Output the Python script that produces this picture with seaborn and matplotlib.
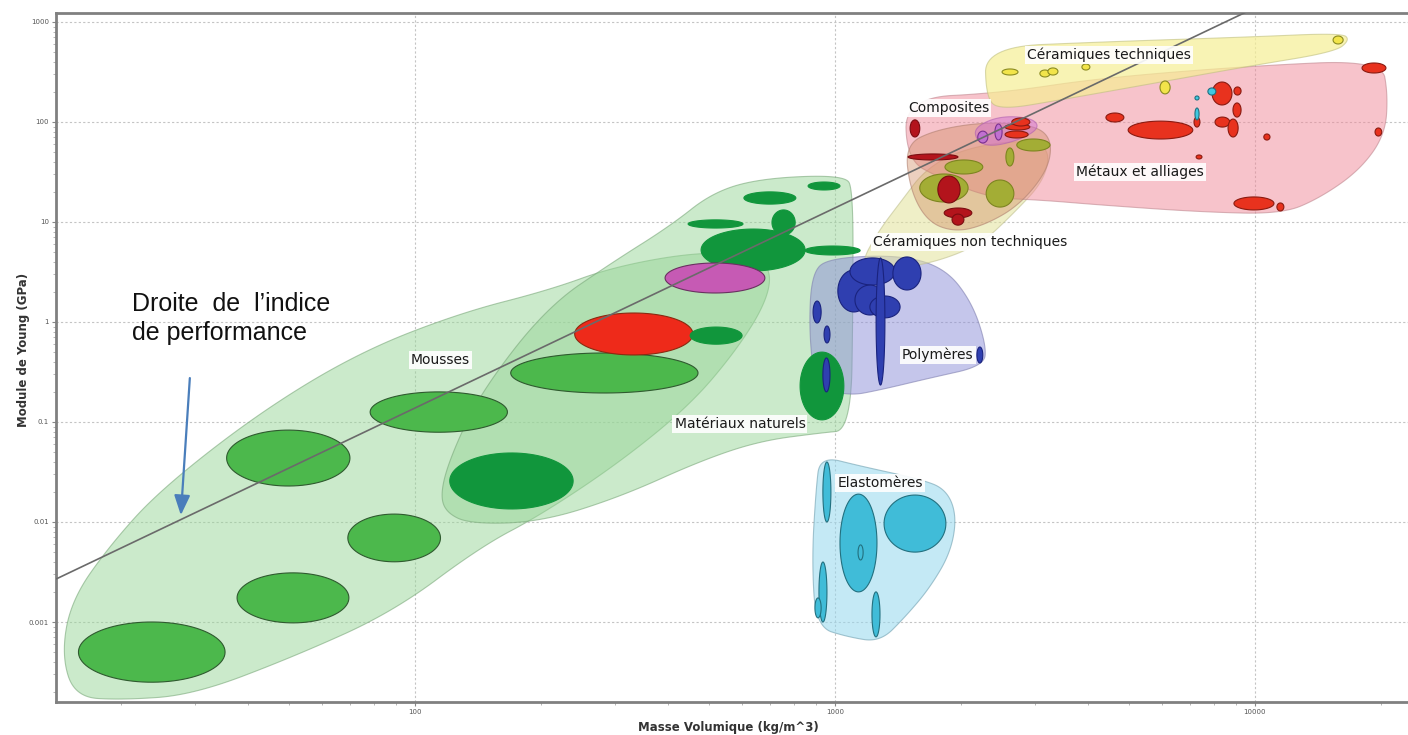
import numpy as np
import matplotlib
matplotlib.use("Agg")
import matplotlib.pyplot as plt
import seaborn as sns

# axis ranges (kg/m^3, GPa)
rho_lim = (13.97, 23660)
E_lim = (1.585e-4, 1230)
x_ticks = [100, 1000, 10000]
x_tick_labels = ["100", "1000", "10000"]
y_ticks = [0.001, 0.01, 0.1, 1, 10, 100, 1000]
y_tick_labels = ["0.001", "0.01", "0.1", "1", "10", "100", "1000"]

# performance index line, end points
perf_rho = [14, 9500]
perf_E = [0.0027, 1250]

# family envelopes (vertices, smoothed later)
mousses_rho = [15.5, 14.4, 15.2, 18.8, 24.7, 42.8, 73.9, 128, 209, 296, 469, 645, 708, 681,
               578, 452, 308, 199, 143, 88.7, 51.3, 29.6, 19.9]
mousses_E = [1.78e-4, 4.68e-4, 1.66e-3, 5.89e-3, 0.0209, 0.126, 0.501, 1.23, 2.09, 3.55, 5.01,
             4.68, 3.16, 1.48, 0.501, 0.148, 0.0398, 0.0117, 5.62e-3, 1.26e-3, 4.47e-4,
             1.86e-4, 1.66e-4]
naturels_rho = [115, 122, 143, 206, 296, 405, 513, 674, 1057, 1104, 1104, 1092, 921, 662, 477,
                308, 199, 135, 118]
naturels_E = [0.02, 0.0468, 0.195, 1.41, 3.98, 9.12, 20, 27.5, 29.5, 20.9, 1.66, 0.083, 0.0776,
              0.0646, 0.0407, 0.0178, 0.01, 0.00955, 0.0126]
polymeres_rho = [881, 973, 1429, 1828, 2118, 2291, 2265, 1682, 1280, 1074, 896, 867]
polymeres_E = [3.16, 4.37, 4.68, 3.47, 1.58, 0.589, 0.363, 0.275, 0.209, 0.182, 0.234, 0.832]
elastomeres_rho = [921, 1148, 1592, 1837, 1950, 1888, 1682, 1469, 1280, 1074, 901, 881, 901]
elastomeres_E = [0.0457, 0.0363, 0.0269, 0.0214, 0.0117, 0.005, 0.00219, 0.00112, 6.3e-4,
                 7.08e-4, 8.9e-4, 4.17e-3, 0.0209]
cer_nt_rho = [1148, 1265, 1445, 1637, 1986, 2685, 3251, 3162, 2637, 2213, 1682, 1280]
cer_nt_E = [3.72, 7.94, 16.6, 33.1, 52.5, 66.1, 57.5, 26.3, 11.7, 5.89, 3.8, 3.31]
composites_rho = [1469, 1730, 2276, 2992, 3289, 3214, 2754, 2276, 1931, 1663, 1510]
composites_E = [58.9, 83.2, 100, 93.3, 66.1, 33.1, 14.8, 9.33, 7.94, 10, 20.9]
comp_fib_rho = [2153, 2472, 2944, 3076, 2754, 2339, 2166]
comp_fib_E = [89.1, 115, 110, 87.1, 66.1, 56.2, 66.1]
metaux_rho = [1469, 2472, 4276, 9727, 20040, 20740, 20400, 17780, 14290, 11590, 7396, 4276,
              3076, 2339, 1778, 1484]
metaux_E = [174, 195, 275, 363, 417, 186, 74.1, 33.1, 17.4, 12, 12.6, 14.8, 16.6, 17.4, 27.5, 41.7]
cer_t_rho = [2276, 4276, 9727, 16110, 16830, 15500, 9727, 5623, 3436, 2472, 2291]
cer_t_E = [562, 631, 708, 776, 661, 501, 363, 240, 166, 132, 174]

# material bubbles: (rho_min, rho_max, E_min, E_max)
b_mousses = [(15.8, 35.3, 2.5e-4, 1.0e-3), (37.7, 69.6, 9.8e-4, 3.1e-3), (69.2, 115, 0.004, 0.012),
             (35.6, 70, 0.0229, 0.083), (78.2, 166, 0.079, 0.2), (169, 472, 0.195, 0.49)]
b_naturels = [(121, 238, 0.0135, 0.049), (447, 604, 8.7, 10.5), (607, 807, 15.1, 20),
              (863, 1028, 20.9, 25.1), (849, 1148, 4.68, 5.75), (480, 849, 3.24, 8.5),
              (708, 804, 7.4, 13.2), (826, 1050, 0.105, 0.50)]
b_mousse_rigide = [(240, 459, 0.468, 1.23)]
b_liege = [(452, 601, 0.60, 0.89)]
b_bois_comp = [(394, 681, 1.95, 3.89)]
b_polymeres = [(1016, 1211, 1.26, 3.31), (1086, 1390, 2.34, 4.37), (1374, 1603, 2.09, 4.47),
               (1116, 1315, 1.175, 2.34), (1211, 1429, 1.10, 1.82), (1253, 1315, 0.234, 4.37),
               (887, 927, 0.977, 1.62), (942, 973, 0.617, 0.912), (2178, 2249, 0.389, 0.562),
               (936, 973, 0.2, 0.437)]
b_elastomeres = [(1028, 1259, 0.002, 0.019), (1309, 1837, 0.005, 0.0186), (936, 978, 0.01, 0.0398),
                 (1135, 1167, 0.00417, 0.0059), (916, 957, 0.001, 0.00398),
                 (896, 927, 0.0011, 0.00174), (1225, 1280, 0.00071, 0.002)]
b_cer_nt = [(1828, 2249, 30.2, 41.7), (1592, 2075, 15.85, 30.2), (2291, 2667, 14.1, 26.3),
            (2710, 3251, 51.3, 67.6), (2553, 2667, 36.3, 55)]
b_rouge_fonce = [(1758, 1986, 15.5, 28.8), (1820, 2118, 11, 13.8), (1900, 2028, 9.3, 12),
                 (1510, 1592, 70.8, 105), (1493, 1963, 41.7, 47.9)]
b_composites = [(2188, 2312, 61.7, 81), (2404, 2500, 66, 95.5)]
b_metaux = [(2541, 2911, 83.2, 95.5), (2541, 2884, 69.2, 81.3), (2637, 2911, 91.2, 109.6),
            (4990, 7113, 67.6, 102), (4418, 4875, 100, 123), (7907, 8817, 148, 251),
            (8913, 9268, 186, 224), (8866, 9268, 112, 155), (8035, 8710, 89, 112),
            (8630, 9120, 70.8, 107), (7161, 7396, 89, 112), (10500, 10860, 66, 75.9),
            (7244, 7480, 42.7, 46.8), (8913, 11100, 13.2, 17.8), (11280, 11720, 12.9, 15.5),
            (17990, 20510, 309, 389), (19320, 20040, 72.4, 87.1)]
b_cyan = [(7727, 8072, 186, 219), (7198, 7362, 166, 182), (7198, 7362, 105, 138)]
b_cer_t = [(2500, 2728, 295, 339), (3076, 3251, 282, 331), (3214, 3396, 295, 347),
           (5943, 6281, 191, 257), (15350, 16220, 603, 724), (3873, 4046, 331, 380)]

# family labels
label_text = ["Céramiques techniques", "Composites", "Métaux et alliages",
              "Céramiques non techniques", "Mousses", "Polymères", "Matériaux naturels",
              "Elastomères"]
label_rho = [4487, 1866, 5321, 2094, 115, 1758, 594, 1280]
label_E = [468, 138, 31.6, 6.31, 0.417, 0.468, 0.0955, 0.0245]


def chaikin(pts, n=4):
    pts = np.asarray(pts, dtype=float)
    for _ in range(n):
        q = np.roll(pts, -1, axis=0)
        new = np.empty((2 * len(pts), 2))
        new[0::2] = 0.75 * pts + 0.25 * q
        new[1::2] = 0.25 * pts + 0.75 * q
        pts = new
    return pts


def envelope(ax, rho, E, fc, alpha, ec):
    lp = np.column_stack([np.log10(rho), np.log10(E)])
    s = chaikin(lp)
    ax.fill(10 ** s[:, 0], 10 ** s[:, 1], fc=fc, ec="none", alpha=alpha, zorder=1)
    ax.fill(10 ** s[:, 0], 10 ** s[:, 1], fc="none", ec=ec, lw=0.8, alpha=0.6, zorder=1)


def bubbles(ax, items, fc, ec, z=3):
    t = np.linspace(0, 2 * np.pi, 90)
    for r0, r1, e0, e1 in items:
        cx, hx = (np.log10(r0) + np.log10(r1)) / 2, (np.log10(r1) - np.log10(r0)) / 2
        cy, hy = (np.log10(e0) + np.log10(e1)) / 2, (np.log10(e1) - np.log10(e0)) / 2
        ax.fill(10 ** (cx + hx * np.cos(t)), 10 ** (cy + hy * np.sin(t)),
                fc=fc, ec=ec, lw=0.8, zorder=z)


sns.set_theme(style="white")
plt.rcParams["font.family"] = ["DejaVu Sans"]

fig = plt.figure(figsize=(14.08, 7.35), dpi=100)
ax = fig.add_axes([56 / 1408, 1 - 702 / 735, 1356 / 1408, 689 / 735])
ax.set_xscale("log")
ax.set_yscale("log")

# envelopes
envelope(ax, mousses_rho, mousses_E, "#98d698", 0.5, "#7aa87a")
envelope(ax, naturels_rho, naturels_E, "#98d698", 0.5, "#7aa87a")
envelope(ax, polymeres_rho, polymeres_E, "#8c8ed8", 0.5, "#8080b0")
envelope(ax, elastomeres_rho, elastomeres_E, "#95d8ee", 0.55, "#70a0b0")
envelope(ax, cer_nt_rho, cer_nt_E, "#e2e29a", 0.55, "#c0c090")
envelope(ax, metaux_rho, metaux_E, "#f08898", 0.5, "#c08890")
envelope(ax, composites_rho, composites_E, "#d08a60", 0.4, "#b08070")
envelope(ax, comp_fib_rho, comp_fib_E, "#d070d0", 0.5, "#b060b0")
envelope(ax, cer_t_rho, cer_t_E, "#f6ef94", 0.7, "#c0c080")

# bubbles
bubbles(ax, b_mousses, "#4cb84c", "#2f5a2f")
bubbles(ax, b_naturels, "#11963c", "#11963c")
bubbles(ax, b_mousse_rigide, "#ee2a1a", "#8a2a10")
bubbles(ax, b_liege, "#11963c", "#11963c")
bubbles(ax, b_bois_comp, "#c65ab4", "#6a3060")
bubbles(ax, b_polymeres, "#2f3fb0", "#1a237e")
bubbles(ax, b_elastomeres, "#40bcd8", "#22707f")
bubbles(ax, b_cer_nt, "#a3ad35", "#7d8520")
bubbles(ax, b_rouge_fonce, "#b3141c", "#7a0c10")
bubbles(ax, b_composites, "#c070d0", "#7a3090")
bubbles(ax, b_metaux, "#e8321e", "#8a1a10")
bubbles(ax, b_cyan, "#40c8e0", "#207080")
bubbles(ax, b_cer_t, "#f2e44a", "#8a8a20")

# performance line
sns.lineplot(x=perf_rho, y=perf_E, ax=ax, color="#6a6a6a", lw=1.2, zorder=4)

for txt, r, e in zip(label_text, label_rho, label_E):
    ax.text(r, e, txt, ha="center", va="center", fontsize=10, color="#1a1a1a", zorder=6,
            bbox=dict(boxstyle="square,pad=0.15", fc="white", ec="none", alpha=0.9))

ax.text(21.2, 2.0, "Droite  de  l’indice\nde performance", ha="left", va="top",
        fontsize=18, family=["Liberation Sans", "DejaVu Sans"], color="#111111",
        linespacing=1.25, zorder=6)
ax.annotate("", xy=(27.7, 0.0117), xytext=(29.1, 0.275),
            arrowprops=dict(arrowstyle="-|>,head_length=1.0,head_width=0.4", color="#4a7ebb",
                            lw=1.6, shrinkA=0, shrinkB=0), zorder=6)

ax.set_xlim(*rho_lim)
ax.set_ylim(*E_lim)
ax.set_xticks(x_ticks, labels=x_tick_labels)
ax.set_yticks(y_ticks, labels=y_tick_labels)
ax.tick_params(which="major", length=3, width=0.8, color="#888888", labelsize=5,
               labelcolor="#555555", pad=2, bottom=True, left=True)
ax.tick_params(which="minor", length=2, width=0.6, color="#aaaaaa", bottom=True, left=True)
ax.set_axisbelow(True)
ax.grid(True, which="major", ls=(0, (2, 2)), color="#c4c4c4", lw=0.8)
for side in ["left", "bottom", "top", "right"]:
    ax.spines[side].set_color("#808080")
    ax.spines[side].set_linewidth(2)

ax.set_xlabel("Masse Volumique (kg/m^3)", fontsize=8.5, fontweight="bold", color="#333333")
ax.set_ylabel("Module de Young (GPa)", fontsize=8.5, fontweight="bold", color="#333333")
ax.xaxis.set_label_coords(0.496, -0.027)
ax.yaxis.set_label_coords(-0.019, 0.511)

fig.savefig("out.png", dpi=100)
